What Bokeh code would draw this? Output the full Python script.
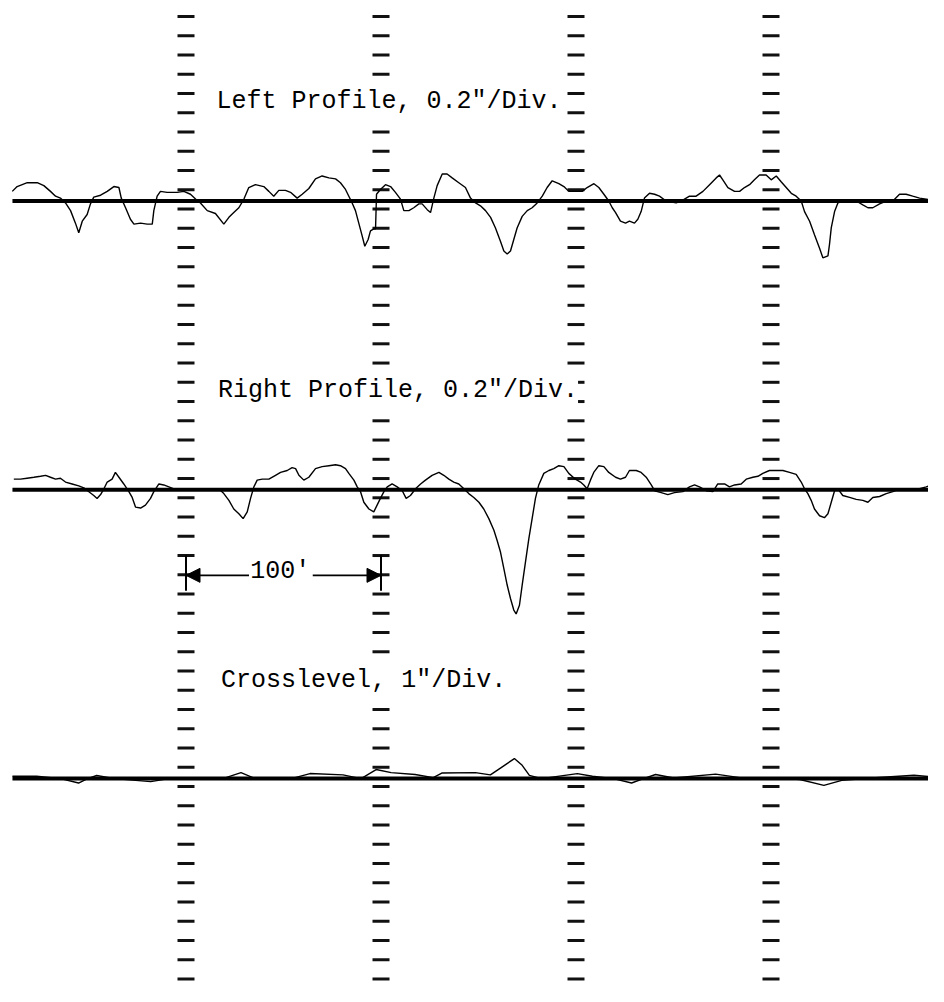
from bokeh.plotting import figure
from bokeh.models import Range1d, Label, Arrow, NormalHead
from bokeh.embed import file_html
from bokeh.resources import INLINE

# ---------------- data (distance in feet, deflection in inches) ----------------
left_ft = [10.9, 13.4, 18.6, 23.7, 27.1, 30.5, 33.1, 35.6, 38.2, 40.8, 43.3, 45.0, 46.8, 49.3, 51.0,
           52.7, 56.2, 59.6, 63.0, 65.6, 66.8, 69.0, 71.5, 73.3, 76.7, 80.1, 82.7, 83.5, 85.2, 86.9,
           90.3, 95.5, 98.9, 102.3, 104.9, 107.4, 110.9, 115.1, 119.4, 122.0, 124.5, 127.1, 129.7,
           132.2, 135.6, 139.9, 142.5, 145.0, 147.6, 151.0, 153.6, 157.0, 159.6, 163.0,
           166.4, 169.8, 173.3, 176.7, 179.2, 181.8, 183.5, 185.2, 186.9, 188.6, 190.3, 191.7, 193.4,
           194.6, 196.3, 197.2, 197.7, 199.7, 202.3, 204.9, 207.4, 210.0, 211.7, 214.3, 216.8, 219.4,
           221.1, 223.7, 225.4, 227.1, 228.8, 231.4, 233.9, 236.5, 239.9, 243.3, 245.9, 248.5, 251.0,
           253.6, 256.2, 258.7, 261.3, 263.0, 264.7, 266.4, 268.1, 269.8, 272.4, 275.0, 277.5, 280.1,
           282.7, 285.2, 287.8, 291.2, 293.8, 296.3, 299.7, 303.2, 305.7, 309.2, 311.7, 314.3, 316.8,
           318.6, 320.3, 322.8, 325.4,
           327.4, 330.0, 331.7, 333.4, 335.1, 337.7, 340.3, 342.8, 346.2, 351.4, 354.8, 358.2, 361.6,
           365.1, 368.5, 371.9, 373.6, 375.3, 377.9, 381.3, 383.9, 386.4, 389.0, 391.5, 394.1, 397.5,
           400.1, 402.7, 405.2, 407.8, 410.4, 412.9, 415.5, 417.2, 419.8, 422.3, 424.9, 426.6, 429.2,
           430.0, 430.9, 432.6, 434.3, 436.8, 440.3, 443.7, 447.1, 449.7, 452.2, 455.7, 459.1, 462.5,
           465.9, 469.3, 472.7, 476.2, 479.6, 483.0, 486.4, 489.0]
left_in = [0.10, 0.15, 0.19, 0.19, 0.16, 0.10, 0.05, 0.03, -0.02, -0.10, -0.23, -0.33, -0.21, -0.14, -0.03,
           0.04, 0.06, 0.10, 0.15, 0.14, 0.03, -0.07, -0.19, -0.24, -0.23, -0.24, -0.24, -0.10, 0.05, 0.10,
           0.09, 0.09, 0.10, 0.07, 0.02, -0.02, -0.10, -0.13, -0.24, -0.17, -0.12, -0.07, 0.02,
           0.14, 0.17, 0.15, 0.10, 0.05, 0.11, 0.11, 0.09, 0.03, 0.07, 0.13,
           0.23, 0.26, 0.24, 0.23, 0.19, 0.12, 0.05, -0.02, -0.10, -0.23, -0.36, -0.47, -0.40,
           -0.31, -0.29, -0.29, 0.07, 0.12, 0.17, 0.15, 0.09, 0.02, -0.10, -0.10, -0.07, -0.03,
           -0.03, -0.09, -0.12, 0.03, 0.16, 0.28, 0.28, 0.24, 0.19, 0.14, 0.03, -0.02, -0.05,
           -0.10, -0.17, -0.28, -0.42, -0.52, -0.55, -0.52, -0.40, -0.28, -0.16, -0.10, -0.07, -0.02,
           0.05, 0.14, 0.21, 0.18, 0.15, 0.10, 0.10, 0.10, 0.14, 0.18, 0.14, 0.07, 0.00,
           -0.07, -0.12, -0.21, -0.23,
           -0.21, -0.23, -0.19, -0.11, 0.03, 0.08, 0.07, 0.05, 0.00, -0.02, 0.01, 0.05, 0.05,
           0.10, 0.17, 0.24, 0.27, 0.22, 0.14, 0.10, 0.10, 0.14, 0.17, 0.22, 0.27, 0.27,
           0.22, 0.26, 0.20, 0.14, 0.08, 0.05, 0.00, -0.11, -0.21, -0.35, -0.49, -0.59, -0.57,
           -0.45, -0.28, -0.11, -0.02, 0.00, 0.01, 0.00, -0.04, -0.07, -0.07, -0.03, 0.00, 0.00,
           0.07, 0.07, 0.05, 0.03, 0.02, 0.01, -0.02, -0.11]

right_ft = [11.7, 15.1, 18.5, 22.0, 25.4, 28.0, 30.5, 33.1, 35.6, 38.2, 41.6, 45.0, 47.6, 50.2, 52.7,
            54.4, 56.2, 57.9, 59.6, 62.1, 63.8, 65.6, 68.1, 70.7, 72.4, 74.1, 76.7, 79.2, 81.8, 83.5,
            86.1, 88.6, 91.2, 93.8, 98.0, 102.3, 107.4, 112.6, 116.8, 119.4, 122.0, 124.5, 127.1,
            129.3, 131.4, 133.1, 134.8, 136.5, 139.1, 142.5, 145.9, 148.5, 151.9, 154.4, 156.2,
            157.9, 160.4, 163.0,
            166.4, 169.8, 173.3, 176.7, 179.2, 181.8, 183.5, 186.1, 187.8, 189.5, 191.2, 193.8, 196.3,
            198.0, 199.7, 201.5, 203.2, 205.7, 208.3, 210.9, 212.9, 215.1, 217.7, 220.3, 222.8, 226.2,
            229.7, 232.2, 234.8, 237.3, 239.9, 242.5, 245.0, 247.6, 250.2, 252.7, 255.3, 257.9, 259.6,
            261.3, 263.0, 264.7, 266.4, 268.1, 269.3, 271.0, 272.4, 274.1, 275.8, 277.5, 279.2, 280.9,
            283.5, 286.1, 288.6, 291.2, 293.8, 296.3, 299.7, 302.3, 304.0, 305.7, 307.4, 309.1, 311.7,
            314.3, 316.8, 320.3, 322.8, 325.4,
            327.4, 330.9, 333.4, 336.0, 338.6, 340.3, 343.7, 347.1, 350.5, 354.8, 358.2, 360.8, 363.3,
            366.8, 370.2, 372.7, 376.2, 378.7, 381.3, 384.7, 387.3, 390.7, 393.3, 395.8, 399.2, 402.7,
            406.1, 409.5, 412.9, 415.5, 417.2, 418.9, 420.6, 422.3, 424.9, 427.4, 429.2, 430.9, 432.6,
            434.3, 436.8, 440.3, 443.7, 447.1, 449.7, 452.2, 455.7, 459.1, 462.5, 465.9, 469.3, 472.7,
            476.2, 479.6, 482.1, 483.8, 486.4, 489.0]
right_in = [0.11, 0.11, 0.12, 0.13, 0.14, 0.15, 0.13, 0.11, 0.12, 0.08, 0.06, 0.04, 0.02, -0.02, -0.06,
            -0.09, -0.05, 0.01, 0.08, 0.11, 0.18, 0.13, 0.06, -0.02, -0.08, -0.18, -0.19, -0.16, -0.09, -0.02,
            0.06, 0.05, 0.03, 0.01, 0.01, 0.00, 0.00, 0.01, 0.01, -0.04, -0.11, -0.20, -0.25,
            -0.30, -0.23, -0.09, 0.03, 0.10, 0.11, 0.11, 0.15, 0.18, 0.20, 0.23, 0.22,
            0.15, 0.10, 0.13,
            0.22, 0.24, 0.25, 0.26, 0.25, 0.22, 0.17, 0.10, 0.03, -0.02, -0.13, -0.20, -0.23,
            -0.16, -0.09, -0.02, 0.03, 0.06, 0.03, -0.01, -0.09, -0.06, 0.01, 0.06, 0.10, 0.15,
            0.18, 0.15, 0.11, 0.08, 0.06, 0.01, -0.04, -0.08, -0.13, -0.20, -0.30, -0.42, -0.53,
            -0.65, -0.82, -0.99, -1.13, -1.25, -1.29, -1.20, -0.99, -0.75, -0.51, -0.30, -0.09, 0.05,
            0.17, 0.20, 0.22, 0.25, 0.24, 0.17, 0.11, 0.08, 0.05, 0.01, 0.10, 0.18, 0.25,
            0.24, 0.18, 0.13, 0.11, 0.13,
            0.20, 0.20, 0.18, 0.13, 0.05, -0.01, -0.03, -0.05, -0.03, -0.02, 0.03, 0.05, 0.03,
            -0.01, -0.02, 0.06, 0.06, 0.03, 0.05, 0.06, 0.11, 0.13, 0.14, 0.17, 0.20, 0.20,
            0.20, 0.18, 0.16, 0.08, 0.01, -0.04, -0.11, -0.20, -0.27, -0.29, -0.25, -0.13, -0.01,
            0.01, -0.06, -0.08, -0.10, -0.11, -0.13, -0.08, -0.07, -0.04, -0.02, 0.01, 0.01, 0.01,
            0.01, 0.03, 0.05, 0.08, 0.06, 0.05]

cross_ft = [11.0, 23.4, 35.7, 44.9, 49.5, 54.2, 63.4, 81.9, 91.2, 118.9, 128.2, 134.3, 155.9, 163.6,
            180.5, 189.8, 197.5, 205.2, 217.5, 226.8, 231.4, 248.4, 256.1, 262.2, 268.4, 272.4, 276.1,
            282.3, 300.7, 308.4, 319.2, 328.5, 334.6, 340.8, 350.1, 371.6, 384.0, 399.3, 414.8, 427.1,
            436.3, 451.7, 473.3, 482.6, 488.1]
cross_in = [0.12, 0.12, 0.00, -0.23, 0.00, 0.16, 0.00, -0.16, 0.00, 0.00, 0.31, 0.05, 0.05, 0.26,
            0.19, 0.00, 0.47, 0.31, 0.21, 0.05, 0.29, 0.31, 0.19, 0.61, 1.04, 0.69, 0.17,
            0.00, 0.26, 0.12, 0.00, -0.23, 0.00, 0.21, 0.03, 0.23, 0.05, 0.05, -0.05, -0.35,
            -0.09, 0.03, 0.17, 0.09, -0.35]

station_ft = [100, 200, 300, 400]          # 100-ft station marks (dashed columns)
baseline_ft = [11.0, 490.0]                # zero reference lines
scale_bar_ft = [100, 200]                  # the 100' scale bar

labels = ['Left Profile, 0.2"/Div.', 'Right Profile, 0.2"/Div.', 'Crosslevel, 1"/Div.']

# ---------------- figure ----------------
W, H = 928, 986
p = figure(width=W, height=H, x_range=Range1d(4.87, 480.77), y_range=Range1d(-50.81, 0.4156),
           output_backend="svg", toolbar_location=None, min_border=0,
           x_axis_location=None, y_axis_location=None)
p.grid.visible = False
p.outline_line_color = None
p.background_fill_color = "white"
p.border_fill_color = "white"

# separate vertical scales for each trace (one division = 19.25 px)
p.extra_y_ranges = {
    "left": Range1d(-8.161, 2.0831),     # 0.2 in / div
    "right": Range1d(-5.161, 5.0831),    # 0.2 in / div
    "cross": Range1d(-10.80, 40.4156),   # 1 in / div
}

# dashed station columns
rows = [-(0.42 + k) for k in range(51)]
dx, dy = [], []
for s in station_ft:
    for r in rows:
        dx.append(s)
        dy.append(r)
p.scatter(dx, dy, marker="dash", size=17, line_width=3, line_color="#111111")

# zero lines and traces
for name, xs, ys in (("left", left_ft, left_in), ("right", right_ft, right_in), ("cross", cross_ft, cross_in)):
    p.line(baseline_ft, [0, 0], y_range_name=name, line_color="black", line_width=4)
    p.line(xs, ys, y_range_name=name, line_color="black", line_width=1.4)

# labels
font = "Liberation Mono"
for txt, lx, ly in ((labels[0], 115.6, -4.83), (labels[1], 116.4, -19.85), (labels[2], 118.0, -34.9)):
    p.add_layout(Label(x=lx, y=ly, text=txt, text_font=font, text_font_size="25px",
                       text_baseline="middle", text_color="black",
                       background_fill_color="white"))

# 100' scale bar
bar_y = -29.45
p.segment(x0=scale_bar_ft, y0=[-28.4, -28.4], x1=scale_bar_ft, y1=[-30.25, -30.25],
          line_color="black", line_width=2)
p.add_layout(Arrow(end=NormalHead(size=14, fill_color="black", line_color="black"),
                   x_start=132.3, y_start=bar_y, x_end=scale_bar_ft[0], y_end=bar_y,
                   line_color="black", line_width=1.6))
p.add_layout(Arrow(end=NormalHead(size=14, fill_color="black", line_color="black"),
                   x_start=165.0, y_start=bar_y, x_end=scale_bar_ft[1], y_end=bar_y,
                   line_color="black", line_width=1.6))
p.add_layout(Label(x=133.0, y=-29.25, text="100'", text_font=font, text_font_size="25px",
                   text_baseline="middle", text_color="black"))

open("out.html", "w").write(file_html(p, INLINE))
